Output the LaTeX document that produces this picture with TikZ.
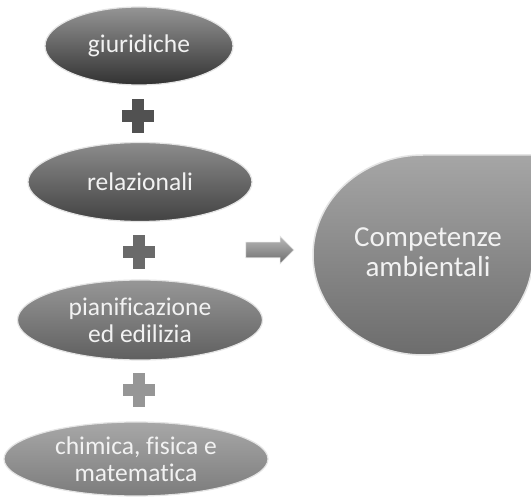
\documentclass[tikz,border=0pt]{standalone}
\usepackage{fontspec}
\setmainfont[Ligatures=CommonOff]{Carlito}
\definecolor{pilldark}{HTML}{3E3E3E}
\definecolor{pillmid}{HTML}{4E4E4E}
\definecolor{pilllight}{HTML}{6A6A6A}
\definecolor{pillpale}{HTML}{8A8A8A}
\definecolor{rimgray}{HTML}{E4E4E4}
\definecolor{textgray}{HTML}{F2F2F2}
\usetikzlibrary{shapes.geometric, shapes.arrows, positioning}

\tikzset{
  pill/.style={ellipse, draw=rimgray, line width=1.2pt, inner sep=0pt},
  pilltext/.style={text=textgray, align=center, font=\fontsize{25.5}{27}\selectfont},
  plussign/.pic={
    \fill[#1] (-16,-6) rectangle (16,6);
    \fill[#1] (-6,-17) rectangle (6,17);
  }
}

\begin{document}
\begin{tikzpicture}[x=1pt, y=-1pt]
  \useasboundingbox[fill=white] (0,0) rectangle (531,497);

  \node[pill, top color=pilldark!55!white, bottom color=pilldark!80!black,
    minimum width=188pt, minimum height=78pt,
    label={[pilltext]center:giuridiche}] (giuridiche) at (139,46) {};
  \node[pill, top color=pillmid!65!white, bottom color=pillmid!85!black,
    minimum width=224pt, minimum height=79pt,
    label={[pilltext]center:relazionali}] (relazionali) at (140,182) {};
  \node[pill, top color=pilllight!70!white, bottom color=pilllight!90!black,
    minimum width=245pt, minimum height=80pt,
    label={[pilltext]center:pianificazione\\ed edilizia}] (pianificazione) at (140,320) {};
  \node[pill, top color=pillpale!75!white, bottom color=pillpale!90!black,
    minimum width=264pt, minimum height=74pt,
    label={[pilltext]center:chimica, fisica e\\matematica}] (scienze) at (136,459) {};

  % plus signs between the pills
  \pic at (138,116) {plussign={pilldark!90!white}};
  \pic at (139,252) {plussign={pilllight}};
  \pic at (139,390) {plussign={pillpale!90!white}};

  % arrow and result
  \node[single arrow, draw=rimgray, line width=0.6pt, top color=gray!55, bottom color=gray!85!black,
    minimum height=48pt, minimum width=27pt, single arrow head extend=6pt,
    inner xsep=0pt, inner ysep=7.5pt] (verso) at (266,250) {};

  \draw[draw=rimgray, line width=1.5pt, top color=gray!70, bottom color=gray!85!black]
    (423,155) -- (533,155) -- (533,255)
    arc[start angle=0, end angle=270, x radius=110, y radius=100] -- cycle;
  \node[text=textgray, align=center, font=\fontsize{29}{30}\selectfont]
    (competenze) at (428,252) {Competenze\\ambientali};
\end{tikzpicture}
\end{document}
